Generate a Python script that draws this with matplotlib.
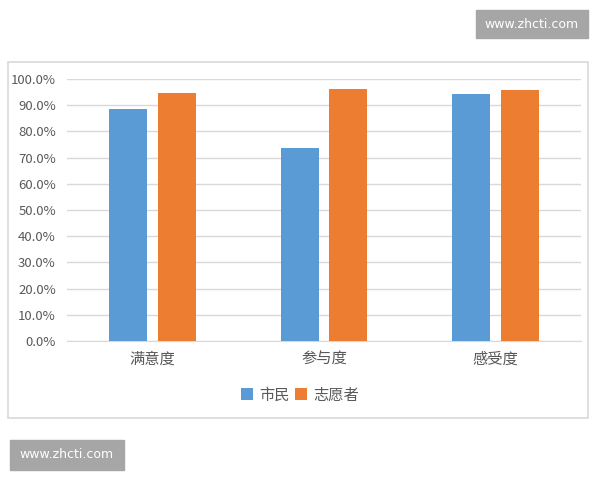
import matplotlib.pyplot as plt
import numpy as np
from matplotlib.patches import Rectangle
from matplotlib.ticker import PercentFormatter

plt.rcParams['font.family'] = ['Noto Sans CJK SC', 'DejaVu Sans']

categories = ['满意度', '参与度', '感受度']
series_names = ['市民', '志愿者']
citizens = [0.887, 0.738, 0.942]
volunteers = [0.948, 0.962, 0.959]
colors = ['#5B9BD5', '#ED7D31']

fig = plt.figure(figsize=(6, 4.8), dpi=100)
ax = fig.add_axes([67 / 600, 1 - 341 / 480, 514 / 600, 262 / 480])

# chart border
fig.patches.append(Rectangle((8 / 600, 1 - 418 / 480), 580 / 600, 356 / 480,
                             transform=fig.transFigure, fill=False,
                             edgecolor='#d9d9d9', linewidth=1.2))

x = np.arange(len(categories))
w = 0.22
ax.bar(x - 0.142, citizens, w, color=colors[0], label=series_names[0], zorder=3)
ax.bar(x + 0.142, volunteers, w, color=colors[1], label=series_names[1], zorder=3)

ax.set_xlim(-0.5, 2.5)
ax.set_ylim(0, 1.0)
ax.set_yticks(np.arange(0, 1.01, 0.1))
ax.yaxis.set_major_formatter(PercentFormatter(1.0, decimals=1))
ax.set_xticks(x)
ax.set_xticklabels(categories, fontsize=11, color='#595959')
ax.tick_params(axis='y', labelsize=9.5, labelcolor='#595959', length=0, pad=8)
ax.tick_params(axis='x', length=0, pad=7)
ax.grid(axis='y', color='#d9d9d9', linewidth=1, zorder=0)
for s in ['top', 'right', 'left']:
    ax.spines[s].set_visible(False)
ax.spines['bottom'].set_color('#d9d9d9')

fig.legend(loc='center', bbox_to_anchor=(300 / 600, 1 - 395 / 480), ncol=2,
           frameon=False, fontsize=11, handlelength=0.8, handleheight=0.8,
           handletextpad=0.4, columnspacing=0.3, labelcolor='#595959')

# watermarks
for (bx, by, bw, bh) in [(476, 10, 112, 28), (10, 440, 114, 30)]:
    fig.patches.append(Rectangle((bx / 600, 1 - (by + bh) / 480), bw / 600, bh / 480,
                                 transform=fig.transFigure, color='#a6a6a6'))
    fig.text((bx + bw / 2) / 600, 1 - (by + bh / 2) / 480, 'www.zhcti.com',
             ha='center', va='center', color='white', fontsize=9,
             family='DejaVu Sans')

fig.savefig('out.png', dpi=100)
